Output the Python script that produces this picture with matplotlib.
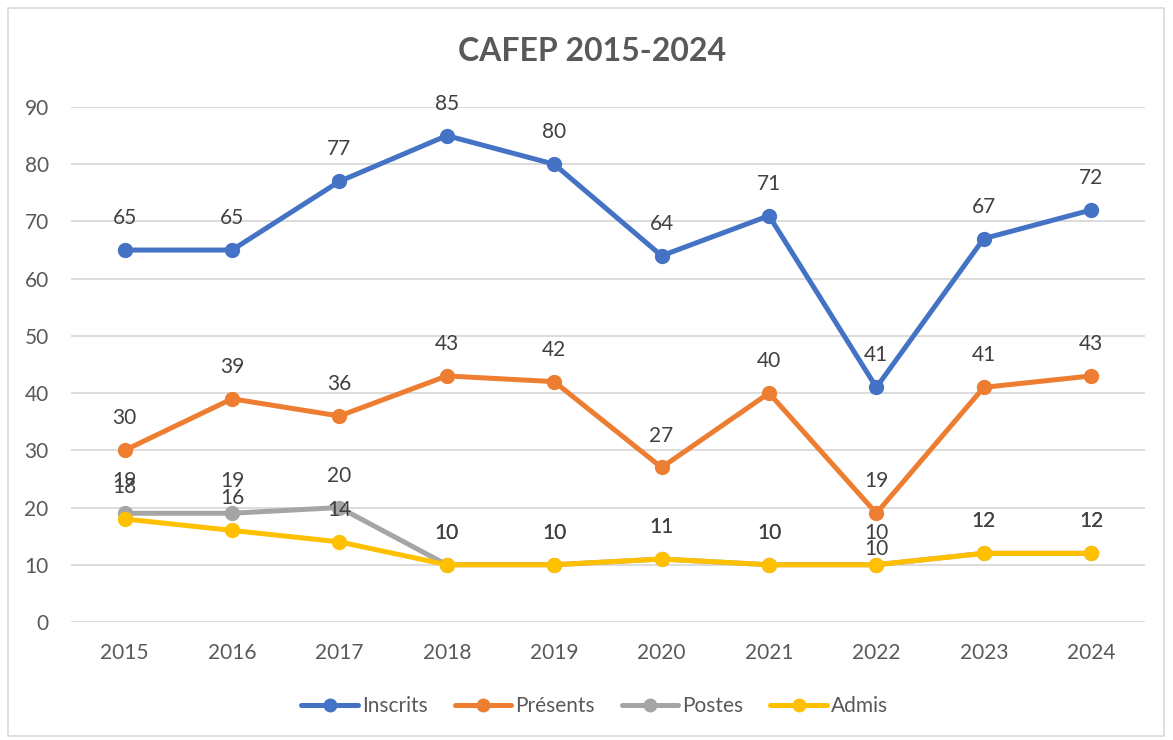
import matplotlib.pyplot as plt
from matplotlib.patches import Rectangle

# data
years = [2015, 2016, 2017, 2018, 2019, 2020, 2021, 2022, 2023, 2024]
inscrits = [65, 65, 77, 85, 80, 64, 71, 41, 67, 72]
presents = [30, 39, 36, 43, 42, 27, 40, 19, 41, 43]
postes = [19, 19, 20, 10, 10, 11, 10, 10, 12, 12]
admis = [18, 16, 14, 10, 10, 11, 10, 10, 12, 12]

series = [
    ("Inscrits", inscrits, "#4472C4"),
    ("Présents", presents, "#ED7D31"),
    ("Postes", postes, "#A5A5A5"),
    ("Admis", admis, "#FFC000"),
]

plt.rcParams['font.family'] = ['Lato', 'DejaVu Sans']
text_color = '#595959'

fig = plt.figure(figsize=(11.73, 7.40), dpi=100)
ax = fig.add_axes([0.0605, 0.1595, 0.9155, 0.6959])

# chart border
fig.patches.append(Rectangle((0.007, 0.006), 0.985, 0.983, transform=fig.transFigure,
                             fill=False, edgecolor='#D9D9D9', linewidth=1.2))

x = list(range(len(years)))
for name, vals, col in series:
    ax.plot(x, vals, color=col, linewidth=3.6, marker='o', markersize=10,
            label=name, solid_capstyle='round', zorder=3)
    for i, v in enumerate(vals):
        dy = 23
        if name == "Admis" and years[i] == 2022:
            dy = 11  # excel nudged this one down
        ax.annotate(str(v), (i, v), xytext=(0, dy), textcoords='offset points',
                    ha='center', va='center', fontsize=15, color='#404040', zorder=4)

ax.set_xlim(-0.5, len(years) - 0.5)
ax.set_ylim(0, 90)
ax.set_yticks(range(0, 91, 10))
ax.set_xticks(x)
ax.set_xticklabels([str(y) for y in years])
ax.tick_params(axis='both', length=0, labelsize=15, colors=text_color)
ax.tick_params(axis='x', pad=15)
ax.tick_params(axis='y', pad=16)

ax.grid(axis='y', color='#D9D9D9', linewidth=1.3, zorder=0)
ax.set_axisbelow(True)
for s in ax.spines.values():
    s.set_visible(False)

fig.text(0.505, 0.93, "CAFEP 2015-2024", ha='center', va='center', fontsize=23,
         fontweight='bold', color=text_color)

fig.legend(loc='center', bbox_to_anchor=(0.507, 0.046), ncol=4, frameon=False,
           fontsize=15, labelcolor=text_color, handlelength=2.7, handletextpad=0.2,
           columnspacing=1.3, markerscale=0.9)

fig.savefig('out.png', dpi=100)
